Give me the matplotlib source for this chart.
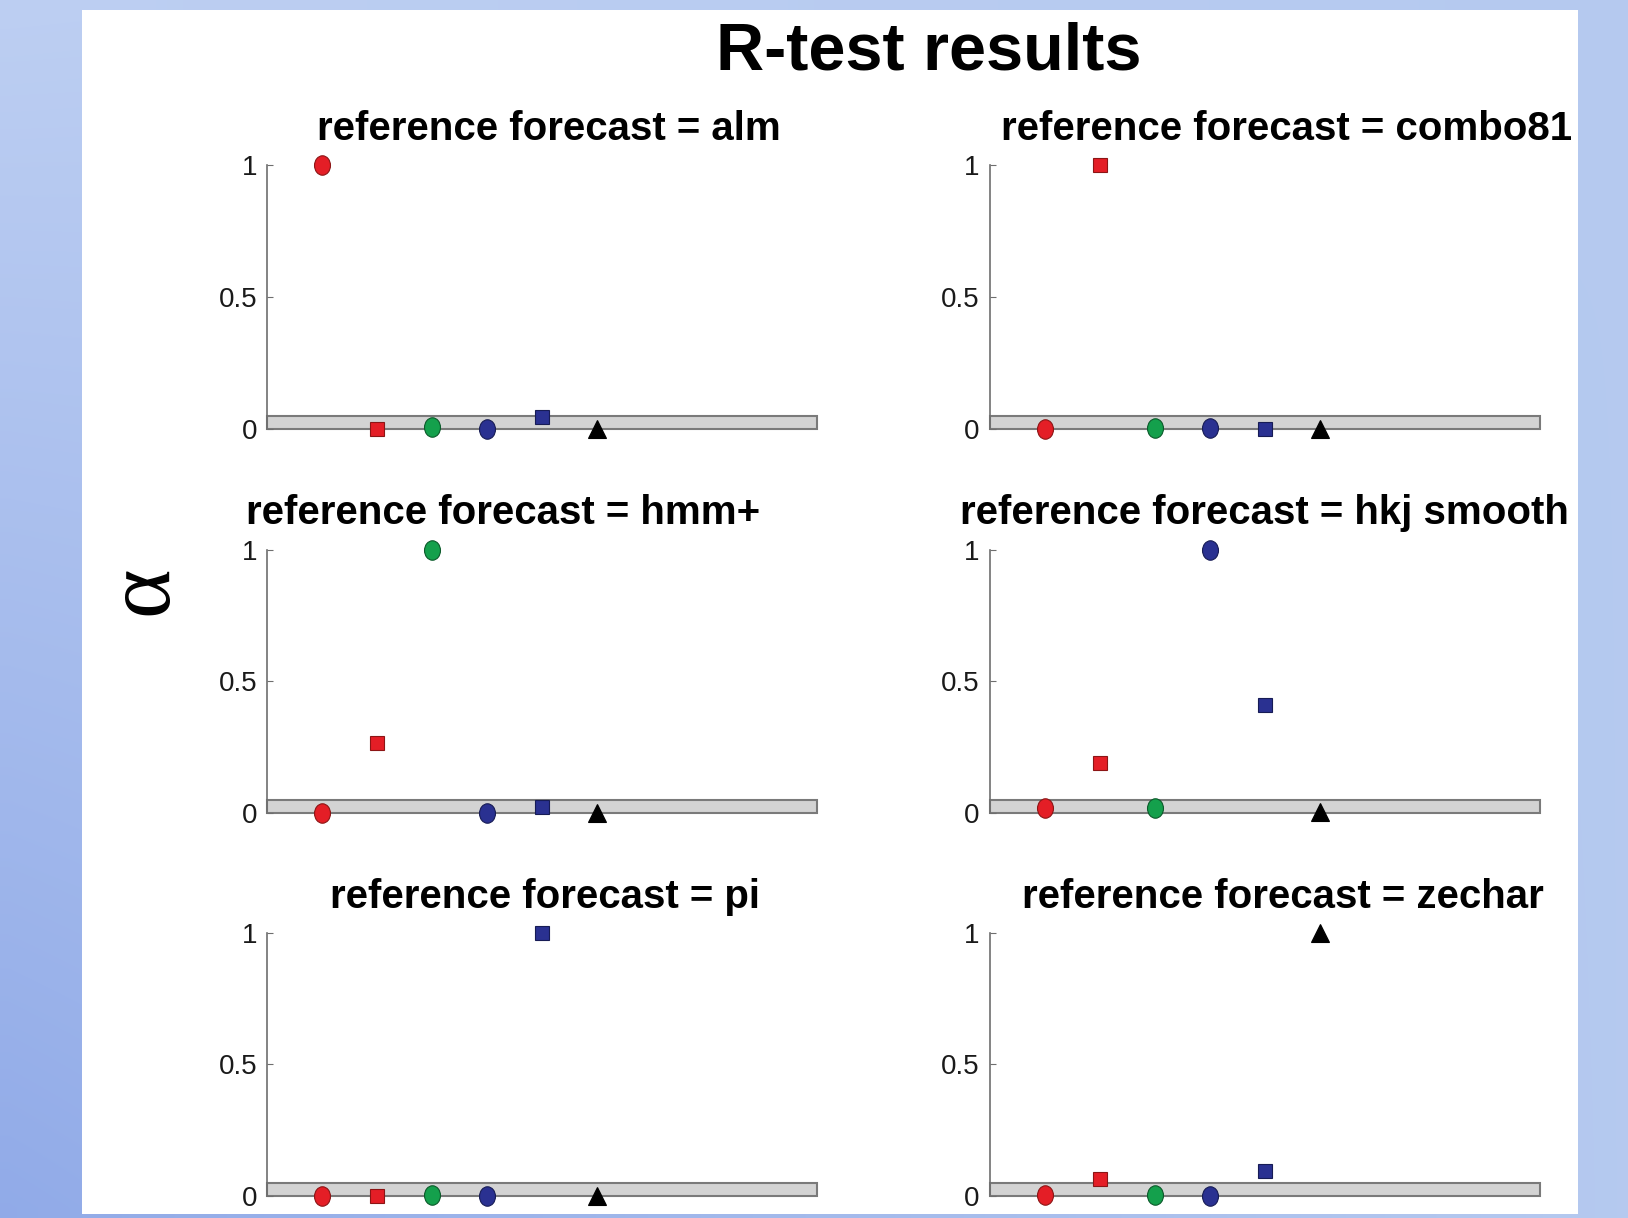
import numpy as np
import matplotlib
matplotlib.use("Agg")
import matplotlib.pyplot as plt
from matplotlib.path import Path
from matplotlib.transforms import Affine2D
from matplotlib.patches import Rectangle

# forecasts, in the order they sit along the x axis
forecasts = ['alm', 'combo81', 'hmm+', 'hkj smooth', 'pi', 'zechar']
x_pos = [1, 2, 3, 4, 5, 6]

# alpha values, one list per reference forecast
alpha_alm = [1.0, 0.0, 0.008, 0.0, 0.046, 0.0]
alpha_combo81 = [0.0, 1.0, 0.003, 0.003, 0.0, 0.0]
alpha_hmm = [0.0, 0.265, 1.0, 0.0, 0.024, 0.0]
alpha_hkj = [0.018, 0.19, 0.018, 1.0, 0.41, 0.005]
alpha_pi = [0.0, 0.0, 0.004, 0.0, 1.0, 0.0]
alpha_zechar = [0.004, 0.065, 0.003, 0.0, 0.097, 1.0]
panels = [alpha_alm, alpha_combo81, alpha_hmm, alpha_hkj, alpha_pi, alpha_zechar]

# slightly tall ellipse, like the squashed circles of the original slide
ellipse = Affine2D().scale(0.82, 1.0).transform_path(Path.unit_circle())

red, green, blue = '#e41e26', '#14a04c', '#2a3191'
styles = [
    dict(marker=ellipse, ms=14, mfc=red, mec='#8c1515'),
    dict(marker='s', ms=10.5, mfc=red, mec='#8c1515'),
    dict(marker=ellipse, ms=14, mfc=green, mec='#0b5a2a'),
    dict(marker=ellipse, ms=14, mfc=blue, mec='#171c55'),
    dict(marker='s', ms=10.5, mfc=blue, mec='#171c55'),
    dict(marker='^', ms=12.5, mfc='black', mec='black'),
]

W, H = 1628, 1218
fig = plt.figure(figsize=(W / 100, H / 100), dpi=100)

# blue slide background
bg = fig.add_axes([0, 0, 1, 1], zorder=-2)
top_left = np.array([0.74, 0.81, 0.95])
low_left = np.array([0.57, 0.67, 0.91])
right = np.array([0.71, 0.79, 0.94])
gy, gx = np.mgrid[0:1:60j, 0:1:90j]
grad = (top_left * ((1 - gy) * (1 - gx))[..., None]
        + low_left * (gy * (1 - gx))[..., None]
        + right * gx[..., None])
bg.imshow(grad, aspect='auto', interpolation='bilinear', extent=[0, 1, 0, 1])
bg.set_axis_off()
fig.patches.append(Rectangle((82 / W, 4 / H), (1578 - 82) / W, (1208 - 4) / H,
                             transform=fig.transFigure, facecolor='white',
                             edgecolor='none', zorder=-1))

fig.text(929 / W, 1 - 53 / H, 'R-test results', ha='center', va='center',
         fontsize=48, fontweight='bold', family='Liberation Sans')
fig.text(144 / W, 1 - 590 / H, '\u03b1', ha='center', va='center', rotation=90,
         fontsize=68, family='Liberation Serif')

col_x = [266.8 / W, 989.5 / W]
row_y = [1 - 428.8 / H, 1 - 813 / H, 1 - 1196.1 / H]
ax_w = 550 / W
ax_h = 263.5 / H
title_x = [0.513, 0.54, 0.43, 0.5, 0.505, 0.533]

for i, vals in enumerate(panels):
    ax = fig.add_axes([col_x[i % 2], row_y[i // 2], ax_w, ax_h])
    ax.set_facecolor('none')
    ax.set_xlim(0, 10)
    ax.set_ylim(0, 1)
    ax.add_patch(Rectangle((0, 0), 10, 0.05, facecolor='#d3d3d3',
                           edgecolor='#7a7a7a', lw=1.5, clip_on=False, zorder=1))
    for xv, yv, st in zip(x_pos, vals, styles):
        ax.plot([xv], [yv], ls='none', mew=0.8, clip_on=False, zorder=3, **st)
    for s in ['top', 'right', 'bottom']:
        ax.spines[s].set_visible(False)
    ax.spines['left'].set_color('#6e6e6e')
    ax.spines['left'].set_linewidth(1.2)
    ax.set_xticks([])
    ax.set_yticks([0, 0.5, 1])
    ax.set_yticklabels(['0', '0.5', '1'])
    ax.tick_params(axis='y', direction='in', length=4, color='#6e6e6e',
                   labelsize=20, pad=7, labelcolor='#1a1a1a')
    for lab in ax.get_yticklabels():
        lab.set_family('Liberation Sans')
    ax.set_title('reference forecast = ' + forecasts[i], x=title_x[i], pad=18,
                 fontsize=29, fontweight='bold', family='Liberation Sans')

fig.savefig('out.png', dpi=100)
